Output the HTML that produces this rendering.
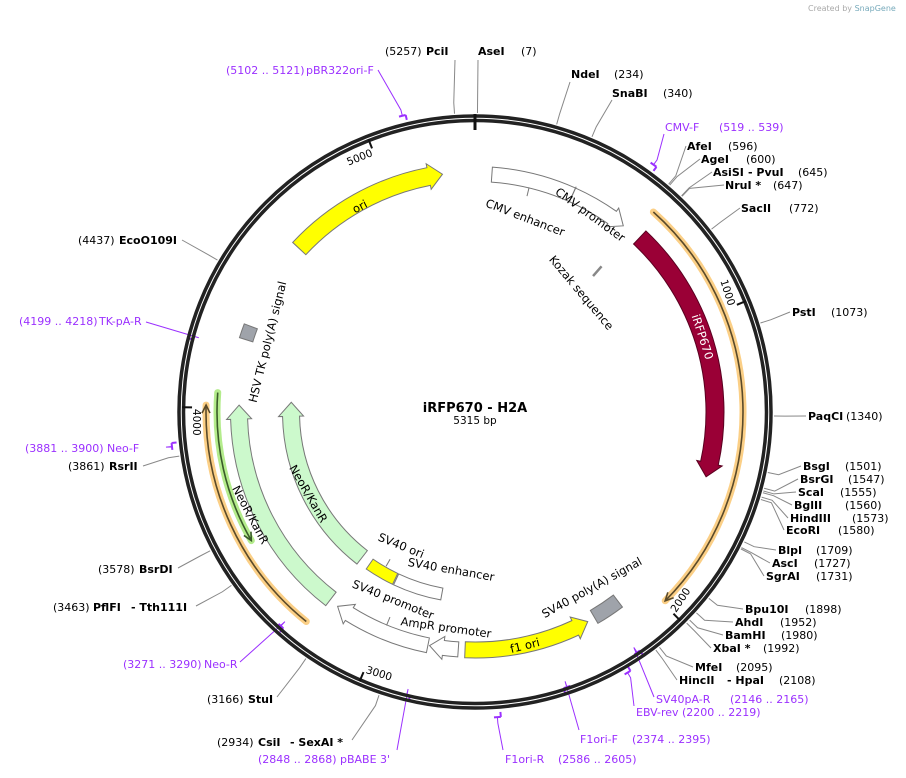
<!DOCTYPE html>
<html><head><meta charset="utf-8"><style>
html,body{margin:0;padding:0;background:#fff;}
svg{display:block;font-family:"DejaVu Sans","Liberation Sans",sans-serif;}
.n{font-weight:bold;font-size:11px;fill:#000}
.p{font-size:11px;fill:#000}
.pr{font-size:11px;fill:#9b30ff}
.fl{font-size:11.5px;fill:#000}
</style></head><body>
<svg id="map" width="906" height="778" viewBox="0 0 906 778" xmlns="http://www.w3.org/2000/svg">
<text x="808" y="11" font-size="8" fill="#aaa">Created by <tspan fill="#7ab">SnapGene</tspan></text>
<g id="lines"></g>
<g id="ring"></g>
<g id="feats"></g>
<g id="labels"></g>
<text x="475" y="412" text-anchor="middle" font-size="13" font-weight="bold">iRFP670 - H2A</text>
<text x="475" y="424" text-anchor="middle" font-size="10.5">5315 bp</text>
</svg>
<script>
const TOTAL = 5315;
const featNames = ["CMV enhancer","CMV promoter","iRFP670","SV40 poly(A) signal","f1 ori","AmpR promoter","SV40 promoter","SV40 enhancer","SV40 ori","NeoR/KanR outer","NeoR/KanR inner","HSV TK poly(A) signal","ori"];
const featStart = [60,357,640,2110,2240,2717,2826,2810,3035,3213,3216,4245,4620];
const featEnd   = [357,569,1560,2212,2693,2820,3178,3030,3170,4011,4031,4295,5200];
const featDir   = [0,1,1,0,-1,1,1,0,0,1,1,0,1];
const featRad   = [238,238,240,237,238,238,238,185,185,236,184,240,240];
const featWid   = [15,15,18,15,16,15,15,12,12,17,17,14,18];
const featFill  = ["#fff","#fff","#9a0036","#9fa3aa","#ffff00","#fff","#fff","#fff","#ffff00","#ccf9cc","#ccf9cc","#9fa3aa","#ffff00"];
const orfStart=[616,3231,3545], orfEnd=[1990,4008,4050], orfDir=[1,1,-1], orfRad=[268,269,258], orfGlow=["#fbcf86","#fbcf86","#b4ec8c"], orfLine=["#5a4a2a","#5a4a2a","#3a5a2a"];
const siteBp=[5257,7,234,340,596,600,645,647,772,1073,1340,1501,1547,1555,1560,1573,1580,1709,1727,1731,1898,1952,1980,1992,2095,2108,2934,3166,3463,3578,3861,4437];
const siteName=["PciI","AseI","NdeI","SnaBI","AfeI","AgeI","AsiSI","NruI *","SacII","PstI","PaqCI","BsgI","BsrGI","ScaI","BglII","HindIII","EcoRI","BlpI","AscI","SgrAI","Bpu10I","AhdI","BamHI","XbaI *","MfeI","HincII","CsiI","StuI","PflFI","BsrDI","RsrII","EcoO109I"];
const siteNum=["(5257)","(7)","(234)","(340)","(596)","(600)","(645)","(647)","(772)","(1073)","(1340)","(1501)","(1547)","(1555)","(1560)","(1573)","(1580)","(1709)","(1727)","(1731)","(1898)","(1952)","(1980)","(1992)","(2095)","(2108)","(2934)","(3166)","(3463)","(3578)","(3861)","(4437)"];
const siteExtra=["","","","","","","- PvuI","","","","","","","","","","","","","","","","","","","- HpaI","- SexAI *","","- Tth111I","","",""];
const siteNX=[426,478,571,612,687,701,713,725,741,792,808,803,800,798,794,790,786,778,772,766,745,735,725,713,695,679,258,248,93,139,109,119];
const siteY=[55,55,78,97,150,163,176,189,212,316,420,470,483,496,509,522,534,554,567,580,613,626,639,652,671,684,746,703,611,573,470,244];
const siteNumX=[385,521,614,663,728,746,798,773,789,831,846,845,848,840,845,852,838,816,814,816,805,780,781,763,736,779,217,207,53,98,68,78];
const siteExX=[0,0,0,0,0,0,748,0,0,0,0,0,0,0,0,0,0,0,0,0,0,0,0,0,0,727,290,0,131,0,0,0];
const siteLX=[455,478,570,612,686,700,712,724,740,790,806,801,798,796,792,788,784,776,770,764,743,733,723,711,693,677,352,277,196,178,143,182];
const siteLY=[60,60,82,100,146,159,172,185,208,312,416,466,479,492,505,518,530,550,563,576,609,622,635,648,667,680,740,697,606,568,466,240];
const primName=["CMV-F","pBR322ori-F","TK-pA-R","Neo-F","Neo-R","pBABE 3'","F1ori-R","F1ori-F","EBV-rev","SV40pA-R"];
const primStart=[519,5102,4199,3881,3271,2848,2586,2374,2200,2146];
const primEnd=[539,5121,4218,3900,3290,2868,2605,2395,2219,2165];
const primRange=["(519 .. 539)","(5102 .. 5121)","(4199 .. 4218)","(3881 .. 3900)","(3271 .. 3290)","(2848 .. 2868)","(2586 .. 2605)","(2374 .. 2395)","(2200 .. 2219)","(2146 .. 2165)"];
const primR=[305,305,292,305,289,291,306,290,302,290];
const primNX=[665,306,99,107,204,340,505,580,636,656];
const primRX=[719,226,19,25,123,258,558,632,682,730];
const primY=[131,74,325,452,668,763,763,743,716,703];
const primLX=[664,378,146,172,240,397,503,579,634,654];
const primLY=[134,70,322,447,662,750,750,730,706,697];
const tickVals=[1000,2000,3000,4000,5000];
const tickRot=[72,-56,17,90,-22];

const NS="http://www.w3.org/2000/svg", cx=475, cy=412;
function P(bp,r){const a=bp/TOTAL*2*Math.PI;return [cx+r*Math.sin(a),cy-r*Math.cos(a)];}
function pt(p){return p[0].toFixed(2)+","+p[1].toFixed(2);}
function mk(tag,attrs,parent){const e=document.createElementNS(NS,tag);for(const k in attrs)e.setAttribute(k,attrs[k]);parent.appendChild(e);return e;}
function arc(s,e,r,sw){const lg=((e-s)>TOTAL/2)?1:0;return " A"+r+","+r+" 0 "+lg+","+sw+" ";}
const gL=document.getElementById('lines'),gR=document.getElementById('ring'),gF=document.getElementById('feats'),gT=document.getElementById('labels');

let c1=mk('circle',{cx:cx,cy:cy,r:296,fill:'none',stroke:'#222','stroke-width':3.5},gR);


let c2=mk('circle',{cx:cx,cy:cy,r:291.5,fill:'none',stroke:'#222','stroke-width':3.5},gR);


let t0=mk('line',{x1:P(0,298)[0],y1:P(0,298)[1],x2:P(0,282)[0],y2:P(0,282)[1],stroke:'#111','stroke-width':3},gR);


tickVals.forEach((v,i)=>{
  const a=P(v,293),b=P(v,283);
  const l=mk('line',{x1:a[0],y1:a[1],x2:b[0],y2:b[1],stroke:'#111','stroke-width':2},gR);
  
  
  const q=P(v-45,279);
  const t=mk('text',{x:q[0],y:q[1],'font-size':10.5,'text-anchor':'middle','dominant-baseline':'middle',transform:'rotate('+tickRot[i]+' '+q[0].toFixed(1)+' '+q[1].toFixed(1)+')'},gR);
  t.textContent=v;
  
  
});

orfStart.forEach((s,i)=>{
  const e=orfEnd[i],r=orfRad[i];
  const d="M"+pt(P(s,r))+arc(s,e,r,1)+pt(P(e,r));
  const g=mk('path',{d:d,fill:'none',stroke:orfGlow[i],'stroke-width':7,'stroke-linecap':'round'},gF);
  
  
  const l=mk('path',{d:d,fill:'none',stroke:orfLine[i],'stroke-width':1.6},gF);
  
  
  const hb=8/r/(2*Math.PI)*TOTAL;
  let tip,base; if(orfDir[i]>0){tip=e;base=e-hb;}else{tip=s;base=s+hb;}
  const h=mk('path',{d:"M"+pt(P(base,r+4))+" L"+pt(P(tip,r))+" L"+pt(P(base,r-4)),fill:'none',stroke:orfLine[i],'stroke-width':1.6},gF);
  
  
});

featStart.forEach((s,i)=>{
  const e=featEnd[i],r=featRad[i],w=featWid[i],ro=r+w/2,ri=r-w/2,dir=featDir[i];
  const hb=14/r/(2*Math.PI)*TOTAL;let d;
  if(dir===0){d="M"+pt(P(s,ro))+arc(s,e,ro,1)+pt(P(e,ro))+" L"+pt(P(e,ri))+arc(s,e,ri,0)+pt(P(s,ri))+"Z";}
  else if(dir>0){const e2=e-hb;d="M"+pt(P(s,ro))+arc(s,e2,ro,1)+pt(P(e2,ro))+" L"+pt(P(e2,ro+4))+" L"+pt(P(e,r))+" L"+pt(P(e2,ri-4))+" L"+pt(P(e2,ri))+arc(s,e2,ri,0)+pt(P(s,ri))+"Z";}
  else {const s2=s+hb;d="M"+pt(P(s2,ro))+arc(s2,e,ro,1)+pt(P(e,ro))+" L"+pt(P(e,ri))+arc(s2,e,ri,0)+pt(P(s2,ri))+" L"+pt(P(s2,ri-4))+" L"+pt(P(s,r))+" L"+pt(P(s2,ro+4))+"Z";}
  const p=mk('path',{d:d,fill:featFill[i],stroke:i===2?'#5a0020':'#777','stroke-width':1},gF);
  
  
});
{const a=P(605,180),b=P(605,193);const k=mk('line',{x1:a[0],y1:a[1],x2:b[0],y2:b[1],stroke:'#888','stroke-width':2.5},gF);

}
[[357,230,247],[200,231,222],[2990,231,222],[3100,178,170]].forEach(q=>{const a=P(q[0],q[1]),b=P(q[0],q[2]);const l=mk('line',{x1:a[0],y1:a[1],x2:b[0],y2:b[1],stroke:'#777','stroke-width':1},gF);

});

const inLab=[["CMV enhancer",525,218,21,"#000"],["CMV promoter",590,215,36,"#000"],["Kozak sequence",581,293,50,"#000"],["iRFP670",702,337,72,"#fff"],["ori",360,207,-27,"#000"],
["NeoR/KanR",250,515,62,"#000"],["NeoR/KanR",308,494,60,"#000"],["SV40 ori",401,546,22,"#000"],["SV40 enhancer",451,570,10,"#000"],["SV40 promoter",393,600,22,"#000"],
["AmpR promoter",446,628,8,"#000"],["f1 ori",525,646,-14,"#000"],["SV40 poly(A) signal",592,588,-29,"#000"],["HSV TK poly(A) signal",268,342,-76,"#000"]];
inLab.forEach(L=>{const t=mk('text',{x:L[1],y:L[2],'text-anchor':'middle','dominant-baseline':'middle',class:'fl',fill:L[4],transform:'rotate('+L[3]+' '+L[1]+' '+L[2]+')'},gT);
t.textContent=L[0];if(L[4]==="#fff")t.setAttribute('style','fill:#fff');

});

siteBp.forEach((bp,i)=>{
  const a=P(bp,299),b=P(bp,310);
  const l=mk('polyline',{points:pt(a)+" "+pt(b)+" "+siteLX[i]+","+siteLY[i],fill:'none',stroke:'#888','stroke-width':1},gL);
  
  
  const n=mk('text',{x:siteNX[i],y:siteY[i],class:'n'},gT);n.textContent=siteName[i];
  
  
  const m=mk('text',{x:siteNumX[i],y:siteY[i],class:'p'},gT);m.textContent=siteNum[i];
  
  
  if(siteExtra[i]){const x=mk('text',{x:siteExX[i],y:siteY[i],class:'n'},gT);x.textContent=siteExtra[i];
  
  }
});

primStart.forEach((s,i)=>{
  const e=primEnd[i],r=primR[i];
  const d="M"+pt(P(s,r))+arc(s,e,r,1)+pt(P(e,r));
  const out=r>296?1:-1;
  const fwd=!/-R|rev|3'/.test(primName[i]);
  const endBp=fwd?e:s;
  const tk=P(endBp,r-out*5);
  const b=mk('path',{d:d+" M"+pt(P(endBp,r))+" L"+pt(tk),fill:'none',stroke:'#9b30ff','stroke-width':2},gL);
  
  
  const m=P((s+e)/2,r), m2=P((s+e)/2,r+out*6);
  const l=mk('polyline',{points:pt(m)+" "+pt(m2)+" "+primLX[i]+","+primLY[i],fill:'none',stroke:'#9b30ff','stroke-width':1},gL);
  
  
  const n=mk('text',{x:primNX[i],y:primY[i],class:'pr'},gT);n.textContent=primName[i];
  
  
  const q=mk('text',{x:primRX[i],y:primY[i],class:'pr'},gT);q.textContent=primRange[i];
  
  
});
</script>
</body></html>
